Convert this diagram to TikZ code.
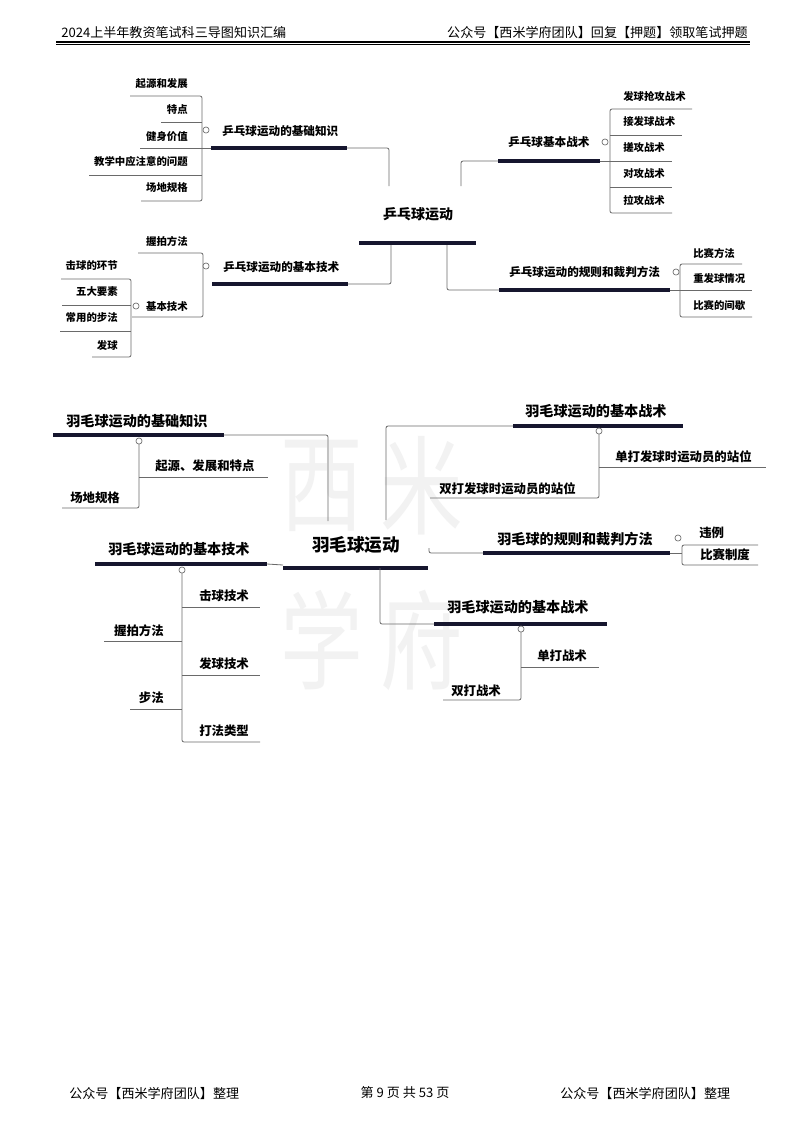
\documentclass[tikz,border=0pt]{standalone}
\usepackage{fontspec}
\setmainfont{Noto Sans CJK SC}
\newfontfamily\cjk{Noto Sans CJK SC}
\definecolor{barcol}{HTML}{16162E}
\definecolor{linecol}{HTML}{6A6A6A}
\definecolor{wmcol}{HTML}{F2F2F2}
\tikzset{
  conn/.style={draw=linecol, line width=0.6pt, rounded corners=1.5pt},
  barline/.style={draw=barcol, line width=2.4pt},
  rootbar/.style={draw=barcol, line width=3pt},
  knob/.style={circle, draw=linecol, fill=white, line width=0.5pt, inner sep=0pt, minimum size=4.6pt},
  ttchild/.style={inner sep=0pt, font=\cjk\bfseries\fontsize{7.8}{8}\selectfont},
  tttitle/.style={inner sep=0pt, font=\cjk\bfseries\fontsize{8.7}{9}\selectfont},
  ttroot/.style={inner sep=0pt, font=\cjk\bfseries\fontsize{10.5}{11}\selectfont},
  bmchild/.style={inner sep=0pt, font=\cjk\bfseries\fontsize{9.3}{10}\selectfont},
  bmtitle/.style={inner sep=0pt, font=\cjk\bfseries\fontsize{10.6}{11}\selectfont},
  bmroot/.style={inner sep=0pt, font=\cjk\bfseries\fontsize{13.2}{14}\selectfont},
  pagetext/.style={inner sep=0pt, font=\cjk\fontsize{9.8}{10}\selectfont},
  wmark/.style={inner sep=0pt, text=wmcol, yscale=1.3, transform shape, font=\cjk\fontsize{62}{62}\selectfont},
}
\begin{document}
\begin{tikzpicture}[x=0.75pt,y=-0.75pt]
\useasboundingbox[fill=white] (0,0) rectangle (800,1132);

% watermark
\node[wmark] (wm1) at (322,486) {西};
\node[wmark] (wm2) at (422,486) {米};
\node[wmark] (wm3) at (322,640) {学};
\node[wmark] (wm4) at (422,640) {府};

% header
\node[pagetext, anchor=west] (hl) at (61,33) {2024上半年教资笔试科三导图知识汇编};
\node[pagetext, anchor=east] (hr) at (748,33) {公众号【西米学府团队】回复【押题】领取笔试押题};
\coordinate (h1a) at (56,41.5); \coordinate (h1b) at (750,41.5);
\coordinate (h2a) at (56,44.8); \coordinate (h2b) at (750,44.8);
\draw[line width=1.5pt] (h1a) -- (h1b);
\draw[line width=0.6pt] (h2a) -- (h2b);

% footer
\node[pagetext, anchor=west] (fl) at (69,1093) {公众号【西米学府团队】整理};
\node[pagetext] (fc) at (405,1093) {第 9 页 共 53 页};
\node[pagetext, anchor=west] (fr) at (560,1093) {公众号【西米学府团队】整理};

% ================= 乒乓球运动 =================
\node[ttroot] (r1) at (418,214) {乒乓球运动};
\draw[rootbar] (359,243) -- (476,243);

% --- 基础知识
\node[tttitle, anchor=west] (a) at (222,131) {乒乓球运动的基础知识};
\draw[conn] (347,148) -- (389,148) -- (389,186);
\draw[conn] (130,96) -- (202,96) -- (202,201) -- (141,201);
\draw[conn] (161,122) -- (202,122);
\draw[conn] (140,148) -- (211,148);
\draw[conn] (89,175) -- (202,175);
\draw[barline] (211,148) -- (347,148);
\node[knob] (ak) at (206,130) {};
\node[ttchild, anchor=east] (a1) at (188,84) {起源和发展};
\node[ttchild, anchor=east] (a2) at (188,110) {特点};
\node[ttchild, anchor=east] (a3) at (188,137) {健身价值};
\node[ttchild, anchor=east] (a4) at (188,162) {教学中应注意的问题};
\node[ttchild, anchor=east] (a5) at (188,188) {场地规格};

% --- 基本技术
\node[tttitle, anchor=west] (b) at (223,267) {乒乓球运动的基本技术};
\draw[conn] (348,284) -- (391,284) -- (391,245);
\draw[conn] (138,253) -- (203,253) -- (203,317) -- (132,317);
\draw[barline] (212,284) -- (348,284);
\node[knob] (bk) at (206,266) {};
\node[ttchild, anchor=east] (b1) at (188,241) {握拍方法};
\node[ttchild, anchor=east] (b2) at (188,307) {基本技术};
\draw[conn] (61,279) -- (131,279) -- (131,357) -- (92,357);
\draw[conn] (62,305) -- (131,305);
\draw[conn] (60,331) -- (131,331);
\node[knob] (b2k) at (136,306) {};
\node[ttchild, anchor=east] (b21) at (118,266) {击球的环节};
\node[ttchild, anchor=east] (b22) at (118,292) {五大要素};
\node[ttchild, anchor=east] (b23) at (118,318) {常用的步法};
\node[ttchild, anchor=east] (b24) at (118,345) {发球};

% --- 基本战术
\node[tttitle, anchor=west] (c) at (508,142) {乒乓球基本战术};
\draw[conn] (498,161) -- (461,161) -- (461,186);
\draw[conn] (692,109) -- (610,109) -- (610,213) -- (672,213);
\draw[conn] (610,135) -- (682,135);
\draw[conn] (600,161) -- (672,161);
\draw[conn] (610,187) -- (672,187);
\draw[barline] (498,161) -- (600,161);
\node[knob] (ck) at (605,142) {};
\node[ttchild, anchor=west] (c1) at (623,96) {发球抢攻战术};
\node[ttchild, anchor=west] (c2) at (623,122) {接发球战术};
\node[ttchild, anchor=west] (c3) at (623,148) {搓攻战术};
\node[ttchild, anchor=west] (c4) at (623,174) {对攻战术};
\node[ttchild, anchor=west] (c5) at (623,200) {拉攻战术};

% --- 规则和裁判方法
\node[tttitle, anchor=west] (d) at (509,272) {乒乓球运动的规则和裁判方法};
\draw[conn] (499,290) -- (447,290) -- (447,245);
\draw[conn] (742,264) -- (680,264) -- (680,317) -- (752,317);
\draw[conn] (670,290) -- (752,290);
\draw[barline] (499,290) -- (670,290);
\node[knob] (dk) at (676,272) {};
\node[ttchild, anchor=west] (d1) at (693,253) {比赛方法};
\node[ttchild, anchor=west] (d2) at (693,279) {重发球情况};
\node[ttchild, anchor=west] (d3) at (693,305) {比赛的间歇};

% ================= 羽毛球运动 =================
\node[bmroot] (r2) at (356,545) {羽毛球运动};
\draw[rootbar] (283,568) -- (428,568);

% --- 基础知识
\node[bmtitle, anchor=west] (e) at (66,421) {羽毛球运动的基础知识};
\draw[conn] (224,435) -- (328,435) -- (328,521);
\draw[barline] (53,435) -- (224,435);
\draw[conn] (139,444) -- (139,508) -- (62,508);
\draw[conn] (139,477) -- (268,477);
\node[knob] (ek) at (139,441) {};
\node[bmchild, anchor=west] (e1) at (155,466) {起源、发展和特点};
\node[bmchild, anchor=west] (e2) at (70,498) {场地规格};

% --- 基本技术
\node[bmtitle, anchor=west] (f) at (108,549) {羽毛球运动的基本技术};
\draw[conn] (267,564) -- (283,565);
\draw[barline] (95,564) -- (267,564);
\draw[conn] (182,573) -- (182,742) -- (260,742);
\draw[conn] (182,607) -- (260,607);
\draw[conn] (182,675) -- (260,675);
\draw[conn] (104,641) -- (182,641);
\draw[conn] (130,709) -- (182,709);
\node[knob] (fk) at (182,570) {};
\node[bmchild, anchor=west] (f1) at (199,596) {击球技术};
\node[bmchild, anchor=west] (f2) at (199,664) {发球技术};
\node[bmchild, anchor=west] (f3) at (199,731) {打法类型};
\node[bmchild, anchor=east] (f4) at (164,631) {握拍方法};
\node[bmchild, anchor=east] (f5) at (164,698) {步法};

% --- 基本战术 (top)
\node[bmtitle, anchor=west] (g) at (525,411) {羽毛球运动的基本战术};
\draw[conn] (513,426) -- (386,426) -- (386,520);
\draw[barline] (513,426) -- (683,426);
\draw[conn] (599,434) -- (599,498) -- (430,498);
\draw[conn] (599,467) -- (766,467);
\node[knob] (gk) at (599,431) {};
\node[bmchild, anchor=west] (g1) at (615,457) {单打发球时运动员的站位};
\node[bmchild, anchor=west] (g2) at (439,489) {双打发球时运动员的站位};

% --- 规则和裁判方法
\node[bmtitle, anchor=west] (h) at (497,539) {羽毛球的规则和裁判方法};
\draw[conn] (483,553) -- (429,553) -- (429,548);
\draw[barline] (483,553) -- (670,553);
\draw[conn] (670,553) -- (682,553);
\draw[conn] (758,545) -- (682,545) -- (682,565) -- (758,565);
\node[knob] (hk) at (678,538) {};
\node[bmchild, anchor=west] (h1) at (699,533) {违例};
\node[bmchild, anchor=west] (h2) at (700,555) {比赛制度};

% --- 基本战术 (bottom)
\node[bmtitle, anchor=west] (k) at (447,607) {羽毛球运动的基本战术};
\draw[conn] (434,624) -- (380,624) -- (380,568);
\draw[barline] (434,624) -- (607,624);
\draw[conn] (521,632) -- (521,700) -- (443,700);
\draw[conn] (521,667) -- (599,667);
\node[knob] (kk) at (521,629) {};
\node[bmchild, anchor=west] (k1) at (537,656) {单打战术};
\node[bmchild, anchor=west] (k2) at (451,691) {双打战术};
\end{tikzpicture}
\end{document}
